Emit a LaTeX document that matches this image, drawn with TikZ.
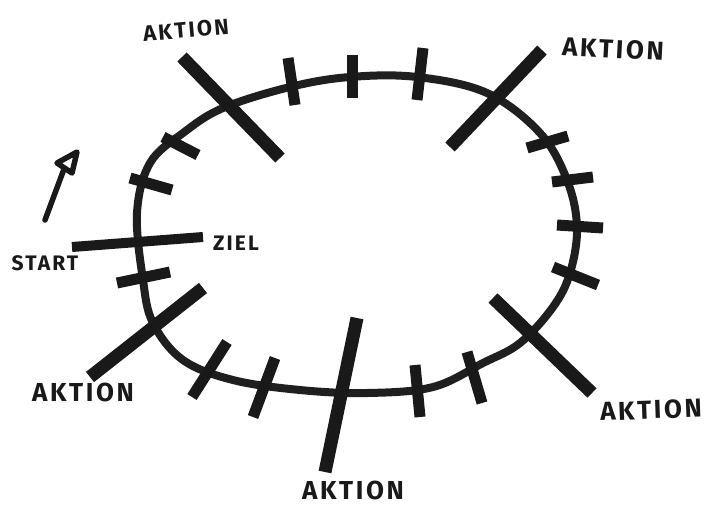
\documentclass[tikz,border=0pt]{standalone}
\usepackage{fontspec}
\setmainfont{Fira Sans}[LetterSpace=10]
\begin{document}
\begin{tikzpicture}[x=1pt,y=-1pt,
  loopline/.style={line width=8pt, line join=round, black!88},
  tickmark/.style={line width=11pt, black!90},
  bigbar/.style={line width=13pt, black!90},
  arrowline/.style={line width=5.5pt, line cap=round, line join=round, black!90},
  lbl/.style={font=\bfseries\fontsize{26}{26}\selectfont, inner sep=0pt, black!90}]
\useasboundingbox (0,0) rectangle (708,507);
% the loop
\draw[loopline] plot[smooth cycle, tension=0.6] coordinates {
 (350,77) (417,77) (487,93) (540,133) (567,180) (577,227) (570,273) (553,307)
 (520,343) (483,363) (433,387) (367,393) (300,390) (233,380) (183,360)
 (153,323) (143,280) (137,213) (150,163) (183,133) (223,108) (290,87)};
% small ticks
\draw[tickmark] (288,58) -- (295,105);
\draw[tickmark] (352,55) -- (352,98);
\draw[tickmark] (423,48) -- (417,100);
\draw[tickmark] (163,137) -- (198,155);
\draw[tickmark] (130,178) -- (172,190);
\draw[tickmark] (117,283) -- (170,272);
\draw[tickmark] (527,148) -- (568,136);
\draw[tickmark] (552,182) -- (593,177);
\draw[tickmark] (557,225) -- (603,228);
\draw[tickmark] (553,267) -- (598,285);
\draw[tickmark] (227,342) -- (192,397);
\draw[tickmark] (275,358) -- (253,417);
\draw[tickmark] (415,365) -- (420,417);
\draw[tickmark] (467,352) -- (482,403);
% start / ziel line
\draw[tickmark, line width=10pt] (72,247) -- (203,237);
% long action bars
\draw[bigbar] (182,57) -- (280,158);
\draw[bigbar] (542,50) -- (450,147);
\draw[bigbar] (493,298) -- (592,393);
\draw[bigbar] (203,288) -- (90,377);
\draw[bigbar] (357,318) -- (325,472);
% arrow
\coordinate (arrS) at (45,220);
\coordinate (arrE) at (64,169);
\draw[arrowline] (arrS) -- (arrE);
\draw[arrowline] (57,163) -- (77,152) -- (72,173) -- cycle;
% labels
\node[lbl, rotate=5, font=\bfseries\fontsize{22}{22}\selectfont] (a1) at (186,30) {AKTION};
\node[lbl, rotate=-3] (a2) at (613,49) {AKTION};
\node[lbl] (a3) at (83,392) {AKTION};
\node[lbl, rotate=2] (a4) at (651,410) {AKTION};
\node[lbl] (a5) at (353,490) {AKTION};
\node[lbl, font=\bfseries\fontsize{21}{21}\selectfont] (st) at (45,263) {START};
\node[lbl, font=\bfseries\fontsize{21}{21}\selectfont] (zi) at (236,243) {ZIEL};
\end{tikzpicture}
\end{document}
